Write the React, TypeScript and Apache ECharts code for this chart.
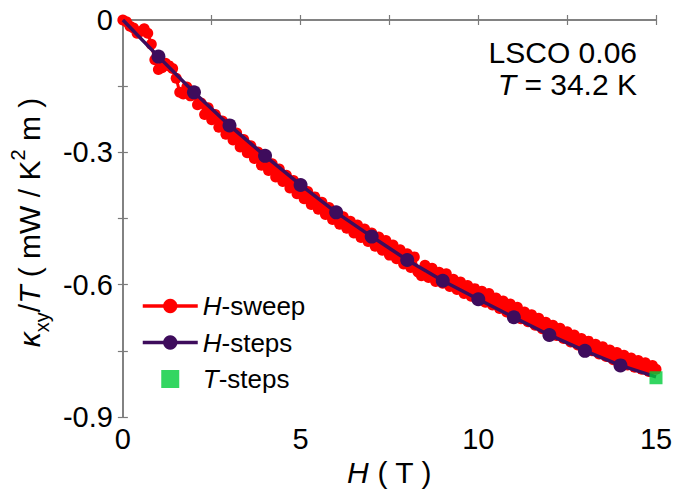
import React, { useEffect, useRef } from 'react';
import * as echarts from 'echarts';

// H-sweep: [H (T), kappa_xy/T]
const sweepData: [number, number][] = [
  [0.0, 0.000], [0.1, -0.004], [0.2, -0.014], [0.3, -0.018], [0.4, -0.030], [0.5, -0.026],
  [0.6, -0.020], [0.7, -0.030], [0.8, -0.055], [0.9, -0.090], [1.0, -0.112], [1.1, -0.108],
  [1.2, -0.098], [1.3, -0.104], [1.4, -0.110], [1.5, -0.132], [1.6, -0.164], [1.7, -0.168],
  [1.8, -0.152], [1.9, -0.172], [2.0, -0.170], [2.1, -0.192], [2.2, -0.188], [2.3, -0.214],
  [2.4, -0.199], [2.5, -0.226], [2.6, -0.214], [2.7, -0.243], [2.8, -0.229], [2.9, -0.259],
  [3.0, -0.244], [3.1, -0.272], [3.2, -0.256], [3.3, -0.288], [3.4, -0.271], [3.5, -0.301],
  [3.6, -0.285], [3.7, -0.314], [3.8, -0.299], [3.9, -0.329], [4.0, -0.312], [4.1, -0.341],
  [4.2, -0.326], [4.3, -0.356], [4.4, -0.338], [4.5, -0.366], [4.6, -0.352], [4.7, -0.381],
  [4.8, -0.364], [4.9, -0.394], [5.0, -0.377], [5.1, -0.405], [5.2, -0.389], [5.3, -0.418],
  [5.4, -0.401], [5.5, -0.429], [5.6, -0.413], [5.7, -0.441], [5.8, -0.425], [5.9, -0.452],
  [6.0, -0.437], [6.1, -0.463], [6.2, -0.446], [6.3, -0.472], [6.4, -0.456], [6.5, -0.483],
  [6.6, -0.465], [6.7, -0.493], [6.8, -0.474], [6.9, -0.502], [7.0, -0.483], [7.1, -0.513],
  [7.2, -0.492], [7.3, -0.522], [7.4, -0.500], [7.5, -0.533], [7.6, -0.510], [7.7, -0.541],
  [7.8, -0.521], [7.9, -0.553], [8.0, -0.530], [8.1, -0.561], [8.2, -0.537], [8.3, -0.571],
  [8.4, -0.580], [8.5, -0.556], [8.6, -0.584], [8.7, -0.563], [8.8, -0.593], [8.9, -0.572],
  [9.0, -0.597], [9.1, -0.575], [9.2, -0.604], [9.3, -0.588], [9.4, -0.611], [9.5, -0.594],
  [9.6, -0.620], [9.7, -0.602], [9.8, -0.626], [9.9, -0.609], [10.0, -0.633], [10.1, -0.615],
  [10.2, -0.640], [10.3, -0.620], [10.4, -0.646], [10.5, -0.630], [10.6, -0.654], [10.7, -0.637],
  [10.8, -0.662], [10.9, -0.644], [11.0, -0.668], [11.1, -0.651], [11.2, -0.677], [11.3, -0.662],
  [11.4, -0.684], [11.5, -0.668], [11.6, -0.692], [11.7, -0.676], [11.8, -0.700], [11.9, -0.685],
  [12.0, -0.707], [12.1, -0.692], [12.2, -0.715], [12.3, -0.699], [12.4, -0.722], [12.5, -0.707],
  [12.6, -0.730], [12.7, -0.714], [12.8, -0.737], [12.9, -0.722], [13.0, -0.744], [13.1, -0.728],
  [13.2, -0.750], [13.3, -0.735], [13.4, -0.757], [13.5, -0.741], [13.6, -0.763], [13.7, -0.748],
  [13.8, -0.770], [13.9, -0.754], [14.0, -0.776], [14.1, -0.760], [14.2, -0.782], [14.3, -0.766],
  [14.4, -0.787], [14.5, -0.772], [14.6, -0.792], [14.7, -0.777], [14.8, -0.797], [14.9, -0.783],
  [15.0, -0.792],
];

// H-steps
const stepsH = [0, 1, 2, 3, 4, 5, 6, 7, 8, 9, 10, 11, 12, 13, 14, 15];
const stepsK = [0, -0.083, -0.164, -0.239, -0.308, -0.374, -0.436, -0.491, -0.544, -0.591, -0.633, -0.674, -0.714, -0.75, -0.783, -0.809];
// points drawn without a marker (line ends)
const stepsNoMarker = [0, 15];

// T-steps
const tStepsH = [15];
const tStepsK = [-0.811];

const xMin = 0, xMax = 15, xInterval = 2.5, xLabelEvery = 5;
const yMin = -0.9, yMax = 0, yInterval = 0.15, yLabelEvery = 0.3;

const seriesNames = ['H-sweep', 'H-steps', 'T-steps'];

const FONT = '"Liberation Sans", Arial, Helvetica, sans-serif';
const AXIS_COLOR = '#7a7a7a';
const RED = '#ff0000';
const PURPLE = '#3e0c5c';
const GREEN = '#00cc3a';
const SQUARE_ICON = 'path://M0,0L10,0L10,10L0,10Z';

export default function App() {
  const ref = useRef<HTMLDivElement>(null);
  useEffect(() => {
    const chart = echarts.init(ref.current!, null, { renderer: 'svg' });
    const axisLine = { show: true, lineStyle: { color: AXIS_COLOR, width: 1.5 } };
    const axisTick = { show: true, inside: true, length: 5, lineStyle: { color: AXIS_COLOR, width: 1.2 } };
    const titleRich = {
      i: { fontFamily: FONT, fontSize: 30, fontStyle: 'italic', color: '#000' },
      n: { fontFamily: FONT, fontSize: 30, color: '#000' },
      sub: { fontFamily: FONT, fontSize: 20, color: '#000', verticalAlign: 'bottom', padding: [0, 0, -8, 0] },
      sup: { fontFamily: FONT, fontSize: 20, color: '#000', verticalAlign: 'top', padding: [-6, 0, 0, 0] },
    };
    const option: any = {
      animation: false,
      backgroundColor: '#ffffff',
      textStyle: { fontFamily: FONT },
      grid: { left: 114, right: 20, top: 20, bottom: 78, containLabel: false },
      xAxis: [
        {
          type: 'value', min: xMin, max: xMax, interval: xInterval, position: 'bottom',
          axisLine, axisTick, splitLine: { show: false },
          axisLabel: {
            fontFamily: FONT, fontSize: 29, color: '#000', margin: 7,
            formatter: (v: number) => (Math.abs(v % xLabelEvery) < 1e-9 ? String(v) : ''),
          },
          name: '{i|H}{n| ( T )}', nameLocation: 'middle', nameGap: 40,
          nameTextStyle: { rich: titleRich },
        },
        {
          type: 'value', min: xMin, max: xMax, interval: xInterval, position: 'top',
          axisLine, axisTick, splitLine: { show: false }, axisLabel: { show: false },
        },
      ],
      yAxis: [
        {
          type: 'value', min: yMin, max: yMax, interval: yInterval, position: 'left',
          axisLine, axisTick, splitLine: { show: false },
          axisLabel: {
            fontFamily: FONT, fontSize: 29, color: '#000', margin: 10,
            formatter: (v: number) => {
              const r = Math.round(v * 100);
              const e = Math.round(yLabelEvery * 100);
              if (r % e !== 0) return '';
              return r === 0 ? '0' : v.toFixed(1);
            },
          },
          name: '{i|κ}{sub|xy}{n|/}{i|T}{n| ( mW / K}{sup|2}{n| m )}',
          nameLocation: 'middle', nameGap: 68, nameRotate: 90,
          nameTextStyle: { rich: titleRich, padding: [0, 8, 0, 0] },
        },
        {
          type: 'value', min: yMin, max: yMax, interval: yInterval, position: 'right',
          axisLine, axisTick, splitLine: { show: false }, axisLabel: { show: false },
        },
      ],
      legend: {
        orient: 'vertical', left: 136, top: 288, itemWidth: 55, itemHeight: 18, itemGap: 10.5,
        data: [
          { name: seriesNames[0] },
          { name: seriesNames[1] },
          { name: seriesNames[2], icon: SQUARE_ICON },
        ],
        lineStyle: { width: 3.5 },
        formatter: (name: string) => {
          const [a, b] = name.split('-');
          return `{i|${a}}{n|-${b}}`;
        },
        textStyle: {
          fontFamily: FONT, fontSize: 26, color: '#000', padding: [0, 0, 0, 0],
          rich: {
            i: { fontFamily: FONT, fontSize: 26, fontStyle: 'italic', color: '#000' },
            n: { fontFamily: FONT, fontSize: 26, color: '#000' },
          },
        },
      },
      graphic: [
        {
          type: 'text', x: 637, y: 52,
          style: {
            text: 'LSCO 0.06', align: 'right', verticalAlign: 'middle',
            fontFamily: FONT, fontSize: 30, fill: '#000',
          },
        },
        {
          type: 'text', x: 637, y: 84,
          style: {
            text: '{i|T}{n| = 34.2 K}', align: 'right', verticalAlign: 'middle',
            rich: {
              i: { fontFamily: FONT, fontSize: 30, fontStyle: 'italic', fill: '#000' },
              n: { fontFamily: FONT, fontSize: 30, fill: '#000' },
            },
          },
        },
      ],
      series: [
        {
          name: seriesNames[0], type: 'line', xAxisIndex: 0, yAxisIndex: 0,
          data: sweepData, symbol: 'circle', symbolSize: 11, showSymbol: true, showAllSymbol: true,
          itemStyle: { color: RED }, lineStyle: { color: RED, width: 3 },
          z: 2,
        },
        {
          name: seriesNames[1], type: 'line', xAxisIndex: 0, yAxisIndex: 0,
          data: stepsH.map((h, i) => (stepsNoMarker.includes(h)
            ? { value: [h, stepsK[i]], symbol: 'none' }
            : { value: [h, stepsK[i]] })),
          symbol: 'circle', symbolSize: 14,
          itemStyle: { color: PURPLE }, lineStyle: { color: PURPLE, width: 3.5 },
          z: 3,
        },
        {
          name: seriesNames[2], type: 'scatter', xAxisIndex: 0, yAxisIndex: 0,
          data: tStepsH.map((h, i) => [h, tStepsK[i]]),
          symbol: 'rect', symbolSize: 13,
          itemStyle: { color: GREEN },
          z: 4,
        },
      ],
    };
    chart.setOption(option);
    return () => chart.dispose();
  }, []);
  return (
    <div
      ref={ref}
      style={{ position: 'fixed', left: 0, top: 0, width: 676, height: 495, background: '#fff' }}
    />
  );
}
